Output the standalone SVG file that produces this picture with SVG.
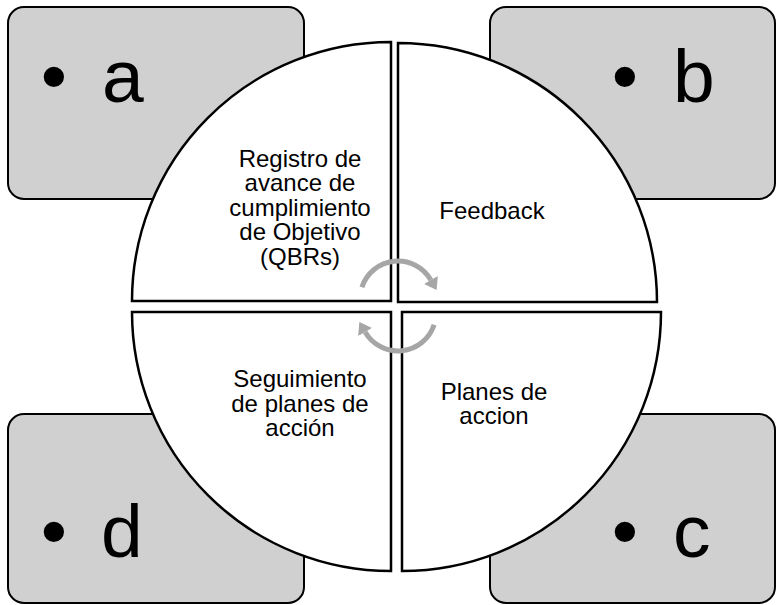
<svg xmlns="http://www.w3.org/2000/svg" width="776" height="605" viewBox="0 0 776 605">
<style>
.box{fill:#d0d0d0;stroke:#000;stroke-width:2}
.big{font-family:"Liberation Sans",Arial,sans-serif;font-size:75px;fill:#000}
.q{fill:#fff;stroke:#000;stroke-width:2.5;stroke-linejoin:miter}
.t{font-family:"Liberation Sans",Arial,sans-serif;font-size:24px;fill:#000;text-anchor:middle}
.arc{fill:none;stroke:#a6a6a6;stroke-width:5}
</style>
<defs>
<marker id="ah" markerUnits="userSpaceOnUse" markerWidth="14" markerHeight="16" refX="0" refY="7" orient="auto" viewBox="0 0 12 14">
<path d="M0,0 L10,7 L0,14 z" fill="#a6a6a6"/>
</marker>
</defs>
<rect width="776" height="605" fill="#fff"/>
<g id="box-a"><rect class="box" x="8" y="7" width="296" height="192" rx="16"/><text class="big"><tspan x="54" y="102" text-anchor="middle">•</tspan><tspan x="102" y="102">a</tspan></text></g>
<g id="box-b"><rect class="box" x="490" y="7" width="285" height="192" rx="16"/><text class="big"><tspan x="625" y="102" text-anchor="middle">•</tspan><tspan x="673" y="102">b</tspan></text></g>
<g id="box-d"><rect class="box" x="8" y="414" width="296" height="189" rx="16"/><text class="big"><tspan x="54" y="557" text-anchor="middle">•</tspan><tspan x="101" y="557">d</tspan></text></g>
<g id="box-c"><rect class="box" x="490" y="414" width="285" height="189" rx="16"/><text class="big"><tspan x="625" y="557" text-anchor="middle">•</tspan><tspan x="673" y="557">c</tspan></text></g>
<g id="q-registro"><path class="q" d="M391,301 L132,301 A259,259 0 0 1 391,42 Z"/><text class="t"><tspan x="300" y="166.5">Registro de</tspan><tspan x="300" y="191">avance de</tspan><tspan x="300" y="215.5">cumplimiento</tspan><tspan x="300" y="240">de Objetivo</tspan><tspan x="300" y="264.5">(QBRs)</tspan></text></g>
<g id="q-feedback"><path class="q" d="M398,302 L398,43 A259,259 0 0 1 657,302 Z"/><text class="t" x="492" y="219">Feedback</text></g>
<g id="q-planes"><path class="q" d="M402,312 L661,312 A259,259 0 0 1 402,571 Z"/><text class="t"><tspan x="494" y="399.5">Planes de</tspan><tspan x="494" y="424">accion</tspan></text></g>
<g id="q-seguimiento"><path class="q" d="M391,312 L391,571 A259,259 0 0 1 132,312 Z"/><text class="t"><tspan x="300" y="387">Seguimiento</tspan><tspan x="300" y="411.5">de planes de</tspan><tspan x="300" y="436">acción</tspan></text></g>
<g id="connectors">
<path class="arc" d="M361.9,287.3 A38,38 0 0 1 430.9,280" marker-end="url(#ah)"/>
<path class="arc" d="M434.1,324.7 A38,38 0 0 1 365.1,332" marker-end="url(#ah)"/>
</g>
</svg>
